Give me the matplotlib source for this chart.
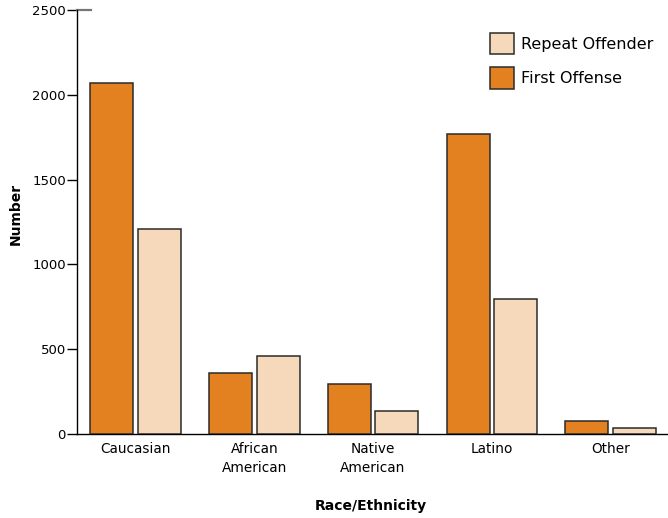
import numpy as np
import matplotlib.pyplot as plt

categories = ['Caucasian', 'African\nAmerican', 'Native\nAmerican', 'Latino', 'Other']
first_offense = [2070, 358, 295, 1768, 75]
repeat_offender = [1210, 462, 135, 795, 38]
y_ticks = [0, 500, 1000, 1500, 2000, 2500]

ORANGE = '#E3801F'
PEACH = '#F6D8BA'
EDGE = '#2b2b2b'


def make_chart():
    plt.rcParams['font.family'] = ['DejaVu Sans']
    fig = plt.figure(figsize=(6.68, 5.18), dpi=100)
    ax = fig.add_axes([0.1153, 0.1622, 0.8847, 0.8185])

    x = np.arange(len(categories))
    w = 0.362
    off = 0.2

    b1 = ax.bar(x - off, first_offense, w, color=ORANGE, edgecolor=EDGE,
                linewidth=1.1, label='First Offense', zorder=3)
    b2 = ax.bar(x + off, repeat_offender, w, color=PEACH, edgecolor=EDGE,
                linewidth=1.1, label='Repeat Offender', zorder=3)

    ax.set_xlim(-0.493, 4.484)
    ax.set_ylim(0, 2500)
    ax.set_yticks(y_ticks)
    ax.set_xticks(x)
    ax.set_xticklabels(categories, fontsize=9.8, linespacing=1.45)

    for s in ['top', 'right']:
        ax.spines[s].set_visible(False)
    ax.spines['left'].set_linewidth(1.0)
    ax.spines['bottom'].set_linewidth(1.0)
    ax.tick_params(axis='x', length=0, pad=6)
    ax.tick_params(axis='y', length=7, width=1.0, pad=1, labelsize=9.5)

    # small cap line at the top of the y axis
    ax.plot([0, 14 / 591], [1, 1], transform=ax.transAxes, color='#777777',
            linewidth=1.6, clip_on=False)

    ax.set_ylabel('Number', fontsize=10, fontweight='bold')
    ax.yaxis.set_label_coords(-0.091, 0.52)
    ax.set_xlabel('Race/Ethnicity', fontsize=10, fontweight='bold')
    ax.xaxis.set_label_coords(0.497, -0.153)

    ax.legend([b2, b1], ['Repeat Offender', 'First Offense'], loc='upper right',
              bbox_to_anchor=(1.0, 0.98), frameon=False, fontsize=11.5,
              handlelength=1.5, handleheight=1.7, handletextpad=0.45,
              labelspacing=0.8)

    plt.savefig('out.png', dpi=100)


if __name__ == '__main__':
    make_chart()
